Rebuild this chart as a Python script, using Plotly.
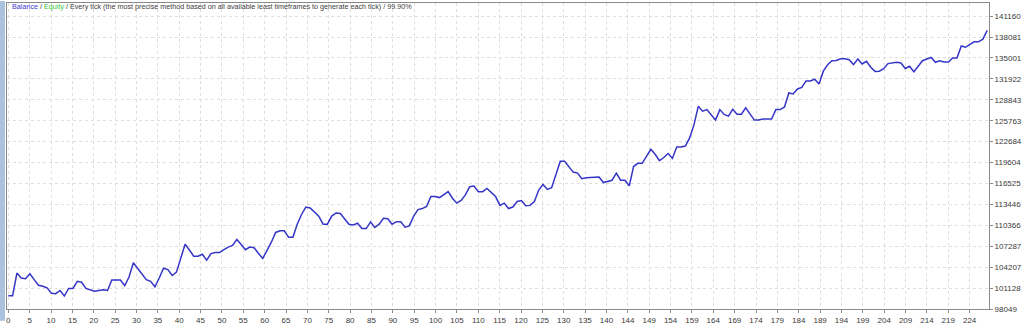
import plotly.graph_objects as go

# ---- data ----
trade_index = list(range(228))

balance = [
    100000, 100000, 103330, 102610, 102510, 103230, 102370, 101550, 101400, 101170,
    100350, 100310, 100780, 99960, 101070, 101070, 102120, 101980, 101070, 100880,
    100680, 100780, 100880, 100780, 102320, 102320, 102320, 101500, 102750, 104860,
    104050, 103190, 102370, 102120, 101320, 102610, 104050, 103850, 102980, 103470,
    105490, 107590, 106730, 105820, 105820, 106110, 105240, 106210, 106350, 106350,
    106780, 107160, 107400, 108270, 107550, 106780, 107160, 107070, 106250, 105490,
    106680, 107880, 109320, 109560, 109560, 108600, 108600, 110530, 111960, 113060,
    112910, 112300, 111720, 110530, 110530, 111720, 112190, 112110, 111240, 110530,
    110420, 110670, 109890, 109890, 110860, 110040, 110530, 111390, 111330, 110530,
    110900, 110900, 110090, 110280, 111720, 112680, 112830, 113160, 114600, 114600,
    114450, 114890, 115320, 114350, 113630, 114020, 114840, 116040, 116140, 115320,
    115320, 115790, 115170, 114600, 113300, 113630, 112830, 113060, 113880, 114020,
    113260, 113300, 113880, 115560, 116370, 115650, 115890, 117720, 119780, 119780,
    119020, 118200, 118050, 117230, 117370, 117370, 117370, 117480, 116660, 116860,
    117000, 118050, 117000, 117000, 116180, 119020, 119490, 119490, 120450, 121550,
    120830, 119880, 120350, 120930, 120210, 121890, 121890, 122040, 123230, 125150,
    127880, 127160, 127400, 126690, 125860, 127400, 126690, 126440, 127450, 126730,
    126730, 127650, 126830, 125860, 125860, 126010, 126010, 126010, 127400, 127400,
    127790, 129850, 129710, 130430, 130670, 131620, 131620, 131870, 131150, 133060,
    134020, 134600, 134640, 134890, 134890, 134740, 134020, 134840, 134120, 134500,
    133640, 133020, 133060, 133410, 134170, 134270, 134360, 134270, 133450, 133780,
    132970, 133780, 134600, 134840, 135070, 134360, 134600, 134410, 134410, 134990,
    134990, 136760, 136570, 137000, 137380, 137380, 137770, 139060,
]

y_tick_values = [98049, 101128, 104207, 107287, 110366, 113446, 116525, 119604,
                 122684, 125763, 128843, 131922, 135001, 138081, 141160]

x_tick_labels = ["0", "5", "10", "15", "20", "25", "30", "35", "40", "45", "50",
                 "55", "60", "65", "70", "75", "80", "85", "90", "95", "100",
                 "105", "110", "115", "120", "125", "130", "135", "140", "144",
                 "149", "154", "159", "164", "169", "174", "179", "184", "189",
                 "194", "199", "204", "209", "214", "219", "224"]

header_parts = [
    ("Balance", "#3b3bd0"),
    (" / ", "#404040"),
    ("Equity", "#3cc83c"),
    (" / Every tick (the most precise method based on all available least "
     "timeframes to generate each tick) / 99.90%", "#404040"),
]

# ---- layout constants ----
W, H = 1024, 327
ML, MR, MT, MB = 7, 31, 2, 12
PW, PH = W - ML - MR, H - MT - MB
LABEL_STEP = 4.954  # MT4 spaces its x labels evenly in pixels

fig = go.Figure()
fig.add_trace(go.Scatter(
    x=trade_index, y=balance, mode="lines",
    line=dict(color="#3535c8", width=1.5),
    hoverinfo="skip", showlegend=False,
))

axis_common = dict(
    showgrid=True, gridcolor="#dedede", griddash="dot", gridwidth=1,
    showline=True, linecolor="#8a8a8a", linewidth=1, mirror=True,
    ticks="outside", ticklen=3, tickcolor="#8a8a8a",
    tickfont=dict(family="Liberation Sans", size=8, color="#3a3a3a"),
    zeroline=False, fixedrange=True,
)

fig.update_layout(
    width=W, height=H,
    margin=dict(l=ML, r=MR, t=MT, b=MB),
    paper_bgcolor="white", plot_bgcolor="white",
    xaxis=dict(
        range=[-0.3, 227.42],
        tickmode="array",
        tickvals=[k * LABEL_STEP for k in range(len(x_tick_labels))],
        ticktext=x_tick_labels,
        **axis_common,
    ),
    yaxis=dict(
        side="right",
        range=[98049, 143090],
        tickmode="array",
        tickvals=y_tick_values,
        ticktext=[str(v) for v in y_tick_values],
        **axis_common,
    ),
    annotations=[dict(
        xref="paper", yref="paper",
        x=3 / PW, y=(PH - 4) / PH, xanchor="left", yanchor="middle",
        showarrow=False,
        text="".join(f'<span style="color:{c}">{t}</span>' for t, c in header_parts),
        font=dict(family="Liberation Sans", size=7.2, color="#404040"),
    )],
    shapes=[dict(
        type="rect", xref="paper", yref="paper",
        x0=-ML / PW, x1=-2 / PW, y0=-MB / PH, y1=1 + MT / PH,
        fillcolor="#aac2de", line=dict(width=0), layer="below",
    )],
)

fig.write_html("out.html")
